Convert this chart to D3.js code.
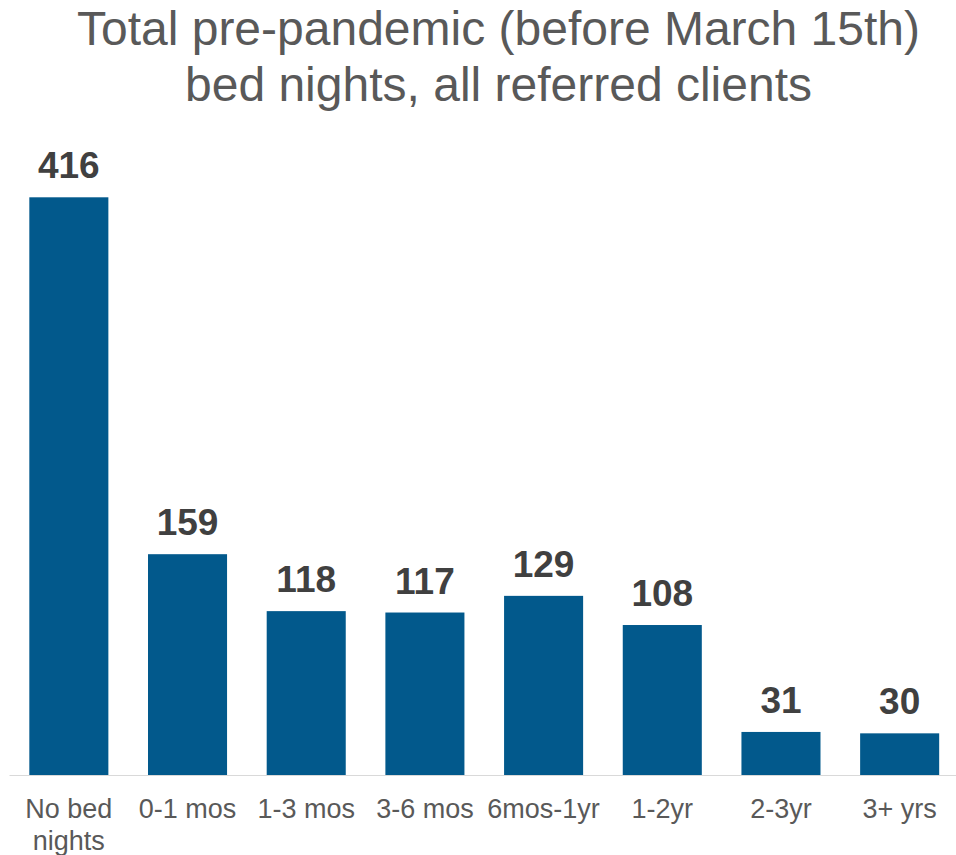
<!DOCTYPE html>
<html>
<head>
<meta charset="utf-8">
<script src="https://cdn.jsdelivr.net/npm/d3@7/dist/d3.min.js"></script>
<style>
body { margin: 0; background: #fff; }
svg { display: block; font-family: Arial, "Liberation Sans", sans-serif; }
</style>
</head>
<body>
<svg id="chart" width="956" height="855"></svg>
<script>
const categories = ["No bed nights", "0-1 mos", "1-3 mos", "3-6 mos", "6mos-1yr", "1-2yr", "2-3yr", "3+ yrs"];
const categoryLines = [["No bed", "nights"], ["0-1 mos"], ["1-3 mos"], ["3-6 mos"], ["6mos-1yr"], ["1-2yr"], ["2-3yr"], ["3+ yrs"]];
const values = [416, 159, 118, 117, 129, 108, 31, 30];
const titleLines = ["Total pre-pandemic (before March 15th)", "bed nights, all referred clients"];

const svg = d3.select("#chart");

const x = d3.scaleBand().domain(categories).range([9.5, 959]).paddingInner(0.334).paddingOuter(0.167);
const y = d3.scaleLinear().domain([0, 416]).range([775, 197.3]);

// Title
svg.append("g").selectAll("text").data(titleLines).join("text")
  .attr("x", 498.5).attr("y", (d, i) => 45 + i * 56)
  .attr("text-anchor", "middle")
  .attr("font-size", 48)
  .attr("fill", "#595959")
  .text(d => d);

// Bars
svg.append("g").selectAll("rect").data(values).join("rect")
  .attr("x", (d, i) => x(categories[i]))
  .attr("y", d => y(d))
  .attr("width", x.bandwidth())
  .attr("height", d => y(0) - y(d))
  .attr("fill", "#02598C");

// Axis line
const axis = d3.axisBottom(x).tickSize(0).tickFormat("");
const ag = svg.append("g").attr("transform", `translate(0,${y(0) + 0.5})`).call(axis);
ag.select(".domain").attr("stroke", "#d9d9d9").attr("stroke-width", 1.2).attr("d", "M9.5,0H956");

// Value labels
svg.append("g").selectAll("text").data(values).join("text")
  .attr("x", (d, i) => x(categories[i]) + x.bandwidth() / 2)
  .attr("y", d => y(d) - 19)
  .attr("text-anchor", "middle")
  .attr("font-size", 37)
  .attr("font-weight", "bold")
  .attr("fill", "#404040")
  .text(d => d);

// Category labels
const lg = svg.append("g");
categories.forEach((c, i) => {
  const t = lg.append("text")
    .attr("x", x(c) + x.bandwidth() / 2)
    .attr("y", 818)
    .attr("text-anchor", "middle")
    .attr("font-size", 27)
    .attr("fill", "#595959");
  categoryLines[i].forEach((line, j) => {
    t.append("tspan").attr("x", x(c) + x.bandwidth() / 2).attr("dy", j === 0 ? 0 : 32).text(line);
  });
});
</script>
</body>
</html>
